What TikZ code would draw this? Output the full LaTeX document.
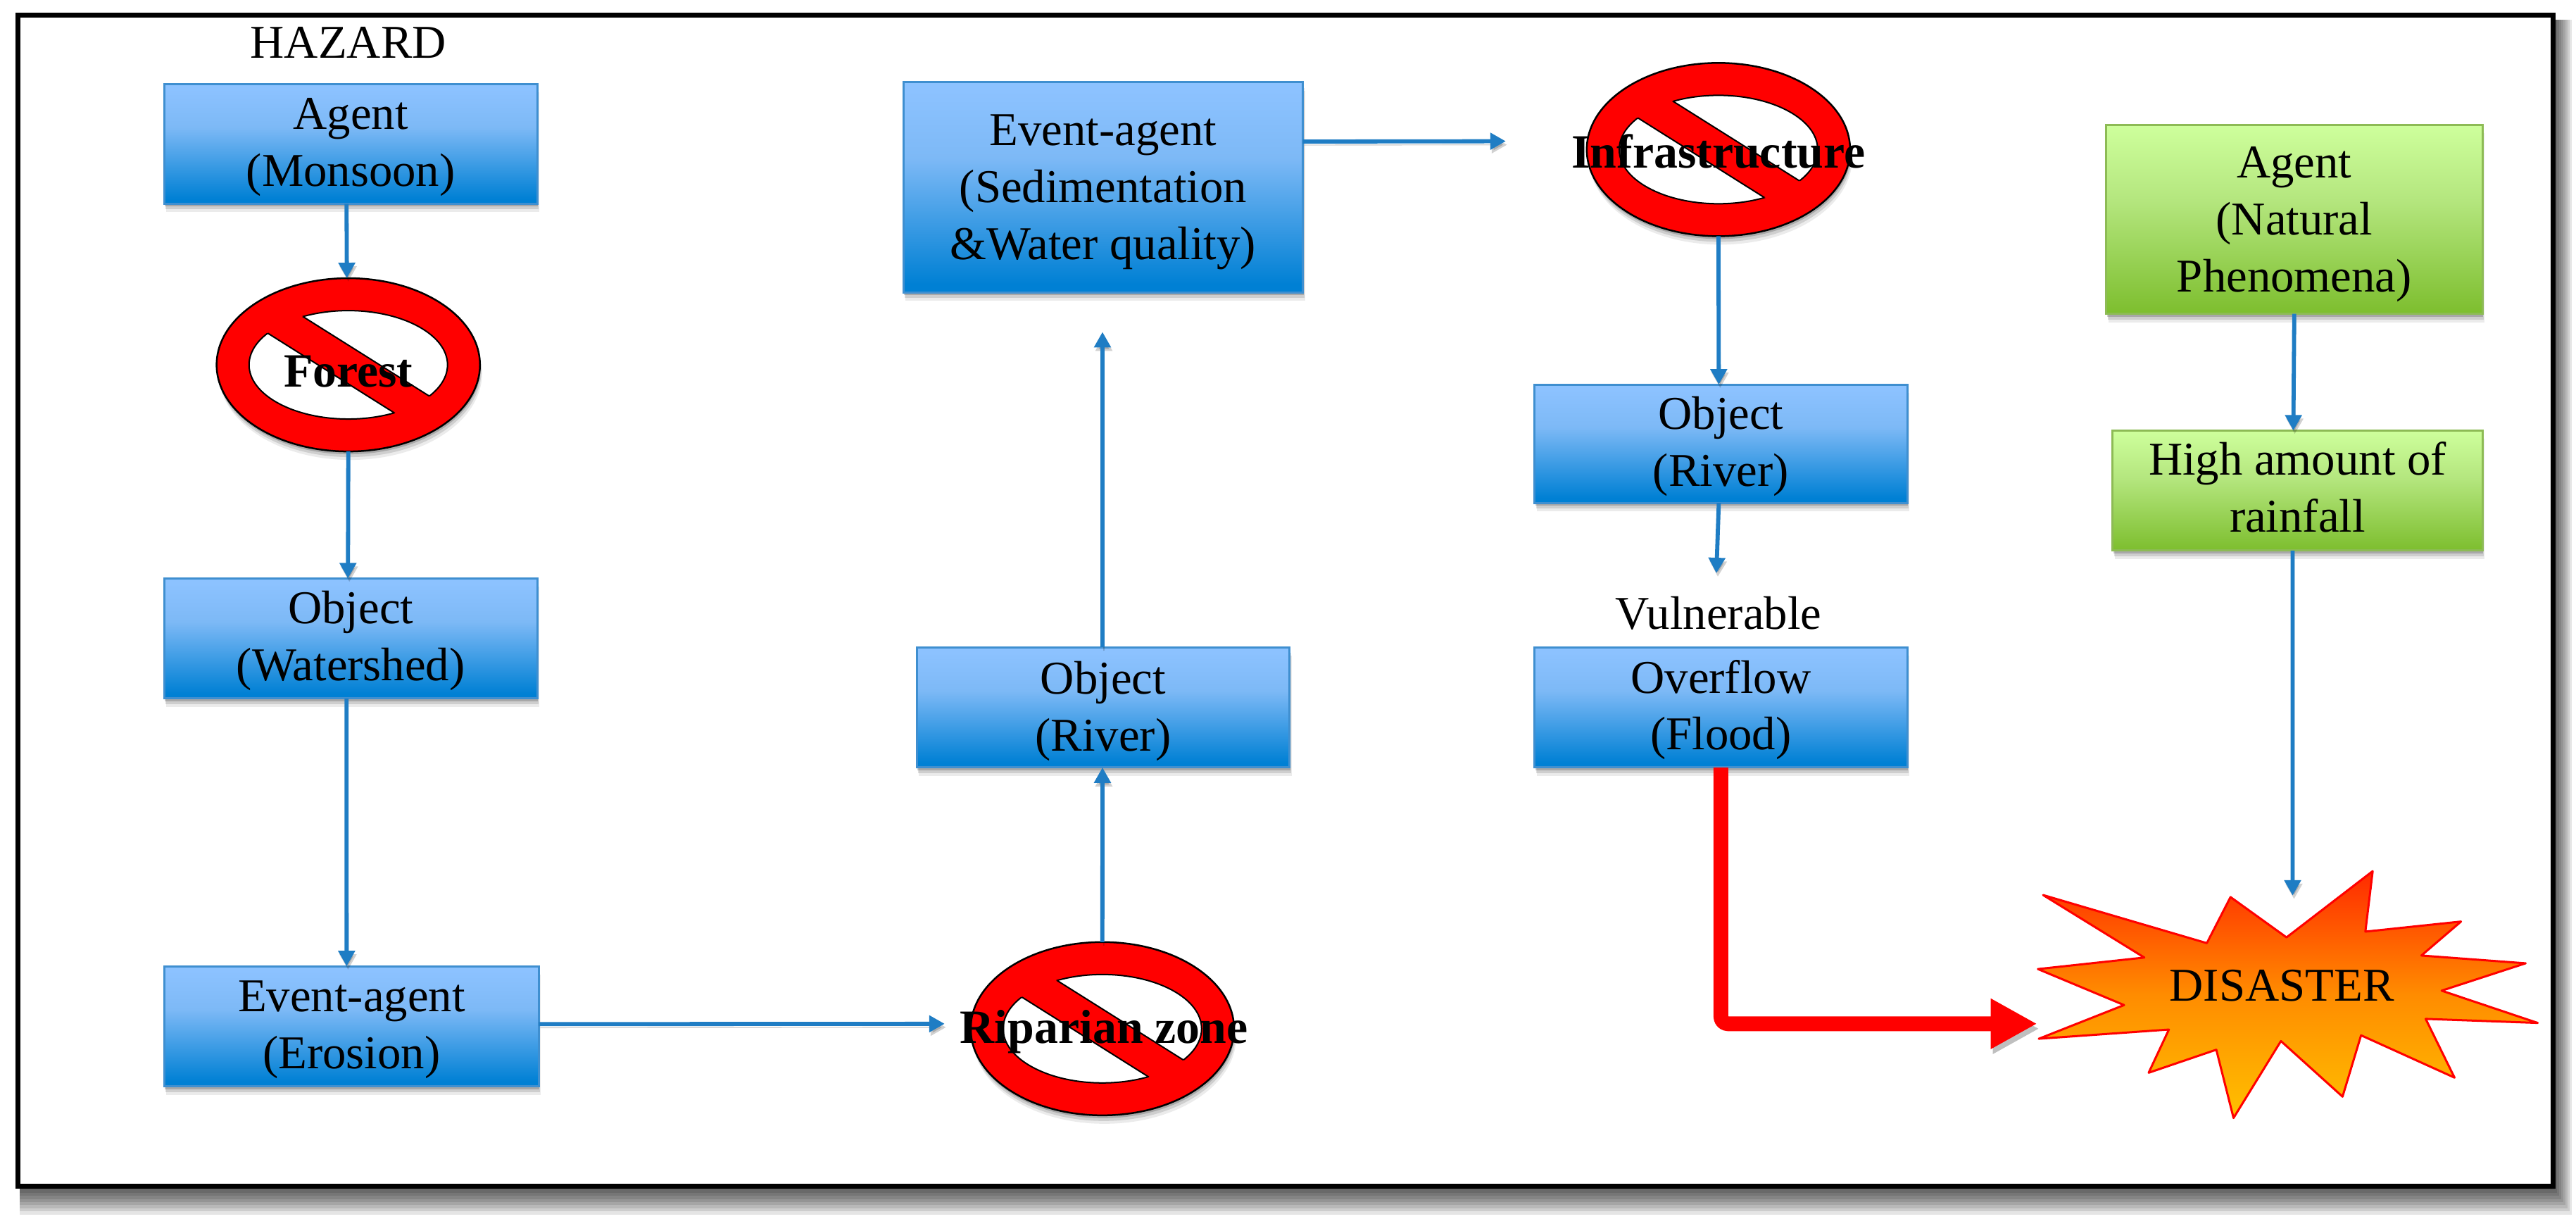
\documentclass[tikz,border=0pt]{standalone}
\usepackage{fontspec}
\setmainfont{Liberation Serif}
\usetikzlibrary{arrows.meta,shapes.geometric,shadows}
\definecolor{flowblue}{HTML}{1F7DC4}
\definecolor{boxedge}{HTML}{3F8FD0}
\definecolor{greenedge}{HTML}{8DBB55}
\definecolor{bluetop}{HTML}{8CC2FF}
\definecolor{bluemid}{HTML}{7DB9F6}
\definecolor{bluebot}{HTML}{0080D4}
\definecolor{greentop}{HTML}{CEFF9C}
\definecolor{greenmid}{HTML}{B4E67E}
\definecolor{greenbot}{HTML}{7DBE2E}
\definecolor{bursttopc}{HTML}{FF2A00}
\definecolor{burstmid}{HTML}{FF8C00}
\definecolor{burstbot}{HTML}{FFC000}
\pgfdeclareverticalshading{bluebox}{100bp}{color(0bp)=(bluebot);color(27bp)=(bluebot);color(57bp)=(bluemid);color(73bp)=(bluetop);color(100bp)=(bluetop)}
\pgfdeclareverticalshading{greenbox}{100bp}{color(0bp)=(greenbot);color(25bp)=(greenbot);color(55bp)=(greenmid);color(75bp)=(greentop);color(100bp)=(greentop)}
\pgfdeclareverticalshading{burstfill}{100bp}{color(0bp)=(burstbot);color(25bp)=(burstbot);color(50bp)=(burstmid);color(75bp)=(bursttopc);color(100bp)=(bursttopc)}
\tikzset{
  softshadow/.style={
    drop shadow={shadow xshift=.03cm,shadow yshift=-.12cm,opacity=.08,fill=black},
    drop shadow={shadow xshift=.02cm,shadow yshift=-.08cm,opacity=.12,fill=black},
    drop shadow={shadow xshift=.01cm,shadow yshift=-.04cm,opacity=.18,fill=black}},
  label text/.style={font=\fontsize{19}{23}\selectfont,align=center,inner sep=0pt},
  flowbox/.style={rectangle,draw=boxedge,line width=.03cm,shading=bluebox,softshadow,
    minimum width=#1*.023335cm,inner sep=0pt,outer sep=0pt},
  greenstep/.style={rectangle,draw=greenedge,line width=.03cm,shading=greenbox,softshadow,
    minimum width=#1*.023335cm,inner sep=0pt,outer sep=0pt},
  flow/.style={draw=flowblue,line width=.058cm,-{Triangle[width=.23cm,length=.22cm]},
    preaction={draw=black,opacity=.18,transform canvas={xshift=.02cm,yshift=-.05cm}}},
  heavyflow/.style={draw=red,line width=.21cm,rounded corners=.1cm,line join=round,
    -{Triangle[width=.67cm,length=.66cm]},
    preaction={draw=black,opacity=.25,transform canvas={xshift=.03cm,yshift=-.07cm}}},
  signring/.style={ellipse,draw=black,line width=.025cm,fill=red,inner sep=0pt,outer sep=0pt,
    minimum width=3.74cm,minimum height=2.46cm,softshadow},
  signword/.style={font=\fontsize{19.3}{23}\selectfont\bfseries,inner sep=0pt},
}
\newcommand{\nosign}[3]{%
  \node[signring] (#1) at (#2,#3) {};
  \begin{scope}[shift={(#1.center)},x=.01cm,y=-.01cm]
    \draw[black,fill=white,line width=.02cm] (0,0) ellipse [x radius=141,y radius=77];
    \begin{scope}
      \clip (0,0) ellipse [x radius=160,y radius=96];
      \fill[red] (-151,-123) -- (205,101) -- (154,124) -- (-202,-100) -- cycle;
    \end{scope}
    \begin{scope}
      \clip (0,0) ellipse [x radius=141,y radius=77];
      \draw[black,line width=.02cm] (-151,-123) -- (205,101) (154,124) -- (-202,-100);
    \end{scope}
  \end{scope}
}
\begin{document}
\begin{tikzpicture}[x=.023335cm,y=-.023335cm]
\useasboundingbox (0,0) rectangle (1568,745.65);
\fill[white] (0,0) rectangle (1568,745.65);
% frame with its shadow
\foreach \k in {1,...,9}{
  \fill[black,opacity=.1] (12,12) rectangle (1554+\k*1.25,722+\k*1.9);
}
\draw[black,fill=white,line width=.07cm] (11,9) rectangle (1554,722);

% plain labels
\node[label text] (hazard) at (212,26) {HAZARD};
\node[label text] (vuln) at (1046,373) {Vulnerable};

% boxes
\node[flowbox=227,minimum height=73*.023335cm,label={[label text,yshift=-.05cm]center:{Agent\\(Monsoon)}}] (agent) at (213.5,87.5) {};
\node[flowbox=227,minimum height=73*.023335cm,label={[label text,yshift=-.035cm]center:{Object\\(Watershed)}}] (water) at (213.5,388.5) {};
\node[flowbox=228,minimum height=73*.023335cm,label={[label text,yshift=-.05cm]center:{Event-agent\\(Erosion)}}] (erosion) at (214,624.5) {};
\node[flowbox=227,minimum height=73*.023335cm,label={[label text,yshift=-.05cm]center:{Object\\(River)}}] (river) at (671.5,430.5) {};
\node[flowbox=243,minimum height=128*.023335cm,label={[label text,yshift=-.07cm]center:{Event-agent\\(Sedimentation\\\&Water quality)}}] (sediment) at (671.5,114) {};
\node[flowbox=227,minimum height=72*.023335cm,label={[label text,yshift=-.035cm]center:{Object\\(River)}}] (riverb) at (1047.5,270) {};
\node[flowbox=227,minimum height=73*.023335cm,label={[label text,yshift=-.035cm]center:{Overflow\\(Flood)}}] (overflow) at (1047.5,430.5) {};
\node[greenstep=229,minimum height=115*.023335cm,label={[label text,yshift=-.07cm]center:{Agent\\(Natural\\Phenomena)}}] (natural) at (1396.5,133.5) {};
\node[greenstep=225,minimum height=73*.023335cm,label={[label text,yshift=.05cm]center:{High amount of\\rainfall}}] (rain) at (1398.5,298.5) {};

% prohibited signs
\nosign{forest}{212}{222}
\nosign{riparian}{671}{626}
\nosign{infra}{1046}{91}

% burst
\begin{scope}[shift={(1157.07,471.4)},x=.006116cm,y=-.004082cm]
  \path[draw=red,line width=.03cm,line join=round,shading=burstfill]
    (330,418) -- (710,585) -- (765,425) -- (895,565) -- (1095,335) -- (1078,545) -- (1300,510) -- (1208,628) -- (1450,655) -- (1255,750) -- (1478,862) -- (1218,848) -- (1285,1052) -- (1068,905) -- (1025,1118) -- (882,925) -- (772,1192) -- (732,955) -- (575,1035) -- (622,885) -- (320,917) -- (518,800) -- (318,675) -- (565,635) -- cycle;
\end{scope}
\node[label text] (disaster) at (1389,600) {DISASTER};
\coordinate (burstleft) at (1240,623);
\coordinate (bursttop) at (1395.5,545);

% connectors
\draw[flow] ([xshift=-.06cm]agent.south) -- ([xshift=-.02cm]forest.north);
\draw[flow] (forest.south) -- ([xshift=-.04cm]water.north);
\draw[flow] ([xshift=-.06cm]water.south) -- ([xshift=-.07cm]erosion.north);
\draw[flow,shorten >=.37cm] ([yshift=.03cm]erosion.east) -- ([yshift=.07cm]riparian.west);
\draw[flow] (riparian.north) -- ([xshift=-.01cm]river.south);
\draw[flow,shorten >=.56cm] ([xshift=-.01cm]river.north) -- ([xshift=-.01cm]sediment.south);
\draw[flow,shorten >=1.15cm] ([yshift=.65cm]sediment.east) -- ([yshift=.12cm]infra.west);
\draw[flow] (infra.south) -- ([xshift=-.03cm]riverb.north);
\draw[flow,shorten >=.02cm] ([xshift=-.03cm]riverb.south) -- ([xshift=-.03cm,yshift=.3cm]vuln.north);
\draw[flow] (natural.south) -- ([xshift=-.06cm]rain.north);
\draw[flow] ([xshift=-.07cm]rain.south) -- (bursttop);
\draw[heavyflow] (overflow.south) |- (burstleft);

% words over the signs
\node[signword] (forestword) at (212,226) {Forest};
\node[signword] (riparianword) at (672,628) {Riparian zone};
\node[signword] (infraword) at (1046,92) {Infrastructure};
\end{tikzpicture}
\end{document}
